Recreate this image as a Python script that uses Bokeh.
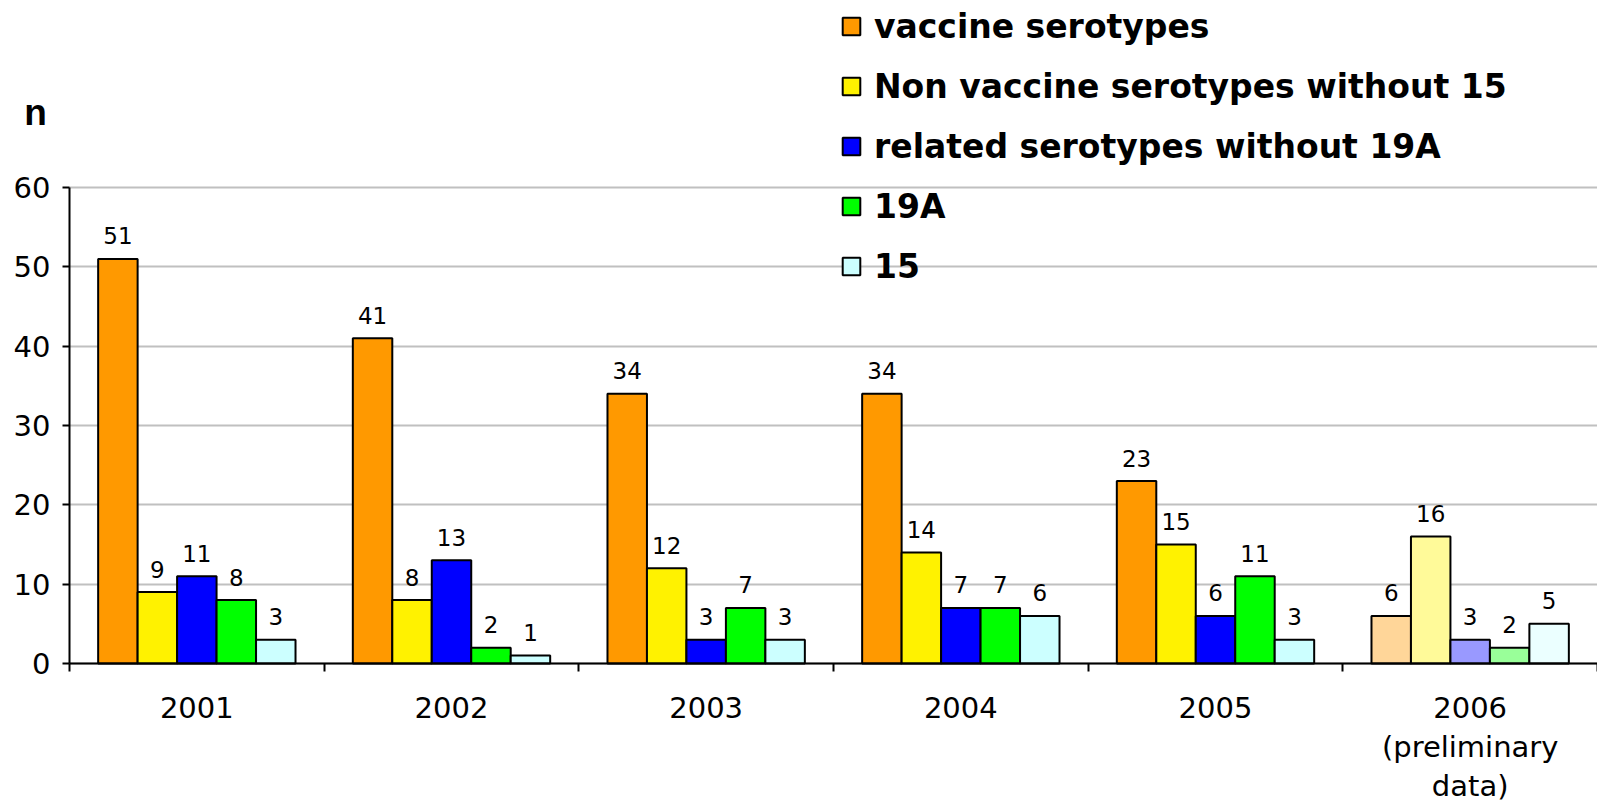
import numpy as np
from bokeh.plotting import figure
from bokeh.models import ColumnDataSource, Range1d, FixedTicker, Legend, LegendItem, Label
from bokeh.transform import dodge
from bokeh.embed import file_html
from bokeh.resources import INLINE
from bokeh.core.properties import value

years = ["2001", "2002", "2003", "2004", "2005", "2006"]
year_labels = ["2001", "2002", "2003", "2004", "2005", "2006\n(preliminary\ndata)"]
series_names = ["vaccine serotypes", "Non vaccine serotypes without 15",
                "related serotypes without 19A", "19A", "15"]
vaccine = [51, 41, 34, 34, 23, 6]
non_vaccine = [9, 8, 12, 14, 15, 16]
related = [11, 13, 3, 7, 6, 3]
s19a = [8, 2, 7, 7, 11, 2]
s15 = [3, 1, 3, 6, 3, 5]
y_ticks = [0, 10, 20, 30, 40, 50, 60]
y_max_tick = 60

colors = ["#FF9900", "#FFF200", "#0000FF", "#00FF00", "#CCFFFF"]
light_colors = ["#FFD699", "#FFFA99", "#9999FF", "#99FF99", "#EBFFFF"]

FONT = "DejaVu Sans"
series = [vaccine, non_vaccine, related, s19a, s15]
bar_w = 0.155
offsets = [-2 * bar_w, -bar_w, 0.0, bar_w, 2 * bar_w]

# layout (pixels)
FRAME_W, FRAME_H = 1597, 802
AXIS_X_PX = 69          # column of the y axis inside the frame
BASE_PX = 663           # row of the x axis (value 0)
TOP_TICK_PX = 187       # row of the 60 gridline
n_cat = len(years)
px_per_x = (FRAME_W - AXIS_X_PX) / n_cat
px_per_y = (BASE_PX - TOP_TICK_PX) / y_max_tick
x_start = -AXIS_X_PX / px_per_x
y_start = -(FRAME_H - BASE_PX) / px_per_y
y_end = BASE_PX / px_per_y

xc = list(np.arange(n_cat) + 0.5)
data = dict(xc=xc)
for i, s in enumerate(series):
    data[f"v{i}"] = s
    data[f"t{i}"] = [str(v) for v in s]
    data[f"c{i}"] = [colors[i]] * (n_cat - 1) + [light_colors[i]]
source = ColumnDataSource(data)

p = figure(frame_width=FRAME_W, frame_height=FRAME_H,
           x_range=Range1d(x_start, n_cat), y_range=Range1d(y_start, y_end),
           output_backend="svg", toolbar_location=None,
           min_border_left=0, min_border_right=0, min_border_top=0, min_border_bottom=0)
p.outline_line_color = None
p.background_fill_color = "white"

renderers = []
for i in range(len(series)):
    r = p.vbar(x=dodge("xc", offsets[i]), top=f"v{i}", bottom=0, width=bar_w,
               fill_color=f"c{i}", line_color="black", line_width=2, source=source)
    renderers.append(r)
    p.text(x=dodge("xc", offsets[i]), y=f"v{i}", text=f"t{i}", source=source,
           text_align="center", text_baseline="alphabetic", y_offset=-23,
           text_font=value(FONT), text_font_size="23px", text_color="black")

# y axis (drawn at x = 0 inside the frame)
ya = p.yaxis[0]
ya.fixed_location = 0
ya.ticker = FixedTicker(ticks=y_ticks, minor_ticks=[])
ya.bounds = (0, y_max_tick)
ya.axis_line_width = 2
ya.axis_line_color = "black"
ya.major_tick_line_width = 2
ya.major_tick_in = 0
ya.major_tick_out = 7
ya.minor_tick_line_color = None
ya.major_label_text_font = FONT
ya.major_label_text_font_size = "29px"
ya.major_label_text_color = "black"
ya.major_label_standoff = 12

# x axis (drawn at y = 0 inside the frame)
xa = p.xaxis[0]
xa.fixed_location = 0
xa.bounds = (0, n_cat)
xa.ticker = FixedTicker(ticks=xc, minor_ticks=list(range(n_cat + 1)))
xa.major_label_overrides = {float(x): lab for x, lab in zip(xc, year_labels)}
xa.axis_line_width = 2
xa.axis_line_color = "black"
xa.major_tick_line_color = None
xa.major_tick_in = 0
xa.major_tick_out = 0
xa.minor_tick_line_color = "black"
xa.minor_tick_line_width = 2
xa.minor_tick_in = 0
xa.minor_tick_out = 8
xa.major_label_text_font = FONT
xa.major_label_text_font_size = "29px"
xa.major_label_text_color = "black"
xa.major_label_text_line_height = 1.15
xa.major_label_standoff = 19

p.xgrid.visible = False
p.ygrid.ticker = FixedTicker(ticks=y_ticks)
p.ygrid.bounds = (0, y_max_tick + 0.5)
p.ygrid.cross_bounds = (0, n_cat)
p.ygrid.grid_line_color = "#C0C0C0"
p.ygrid.grid_line_width = 2

legend = Legend(items=[LegendItem(label=n, renderers=[r], index=0)
                       for n, r in zip(series_names, renderers)],
                location=(840, FRAME_H - 286), orientation="vertical",
                glyph_width=22, glyph_height=22, label_height=40, spacing=20,
                padding=0, margin=0, border_line_color=None, background_fill_alpha=0,
                label_text_font=FONT, label_text_font_style="bold",
                label_text_font_size="33px", label_standoff=12, label_text_color="black")
p.add_layout(legend)

p.add_layout(Label(x=(35 - AXIS_X_PX) / px_per_x, y=(BASE_PX - 112) / px_per_y, text="n",
                   text_font="Liberation Sans", text_font_style="bold",
                   text_font_size="37px", text_align="center", text_baseline="alphabetic",
                   text_color="black"))

open("out.html", "w").write(file_html(p, INLINE))
